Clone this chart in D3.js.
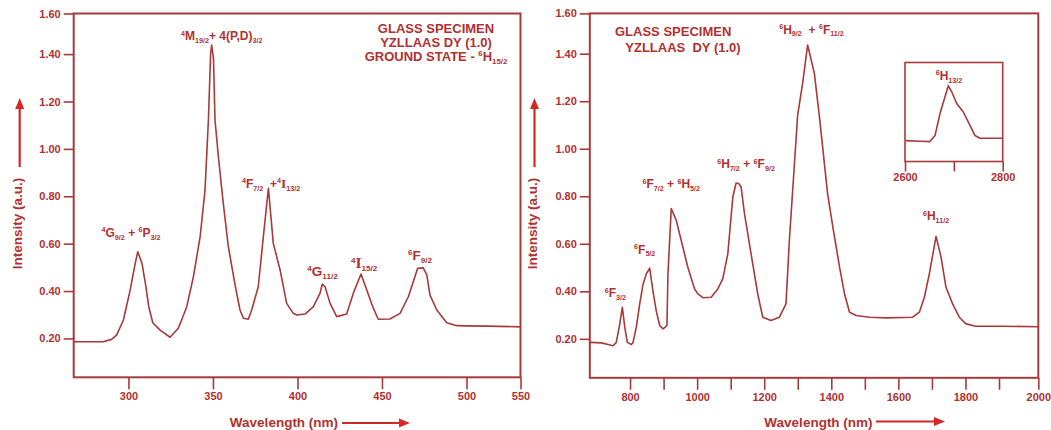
<!DOCTYPE html>
<html><head><meta charset="utf-8">
<script src="https://cdn.jsdelivr.net/npm/d3@7"></script>
<style>
body{margin:0;background:#fff}
svg{display:block}
text{font-family:"Liberation Sans",Arial,sans-serif;font-weight:bold}
</style>
</head><body>
<svg id="chart" width="1051" height="430"></svg>
<script>
// ---------- DATA ----------
// UV–VIS panel
const uvWavelength = [267.6,285,290,293,297,301,304,305.5,308,310,312,314.4,318.7,324.6,329.5,334.5,338.4,342.4,345.3,347.3,348.6,349.2,349.8,350.3,351.2,353.2,356.1,359.1,363.1,366,368,370.9,372.9,376.8,379.8,382.8,385.7,389.7,393.6,397.5,399.6,404.5,409.4,413.3,414.7,416.3,419.3,423.2,429.1,433,437.6,441,444.5,447.8,454.7,460.7,465.6,471.1,474.4,476.5,478.4,482.4,488.3,494.2,500,520,550];
const uvIntensity  = [0.186,0.186,0.196,0.214,0.278,0.404,0.517,0.566,0.517,0.433,0.334,0.266,0.235,0.205,0.243,0.334,0.46,0.629,0.826,1.122,1.40,1.445,1.41,1.38,1.122,0.967,0.77,0.587,0.425,0.32,0.285,0.281,0.32,0.418,0.629,0.834,0.601,0.489,0.348,0.306,0.299,0.303,0.334,0.39,0.43,0.418,0.348,0.292,0.303,0.39,0.472,0.404,0.334,0.281,0.282,0.306,0.376,0.496,0.498,0.468,0.383,0.32,0.266,0.254,0.253,0.252,0.249];
// NIR panel
const nirWavelength = [680,714.6,734.6,749.4,759,769.4,777.1,784.2,792,803.9,808.9,818.7,828.8,838.7,848.6,858.6,868.4,878,888.3,898.2,905,910,913,922.8,937.7,952.6,972.5,992.4,1002.3,1017.1,1041.8,1061.7,1076.6,1091.5,1106.4,1116.2,1123.8,1131.1,1141.2,1160.8,1180.7,1195.6,1220.3,1245.3,1264.9,1275,1299.7,1314.6,1329.4,1349.4,1365,1388.9,1404.7,1424.6,1439.5,1454.4,1474.3,1514,1563.5,1642.7,1662.6,1677.5,1692.4,1712.3,1727.2,1742,1761.7,1781.6,1801.5,1831.2,1911,2000];
const nirIntensity  = [0.185,0.183,0.176,0.171,0.185,0.263,0.333,0.249,0.185,0.176,0.185,0.249,0.347,0.43,0.474,0.497,0.40,0.319,0.256,0.242,0.249,0.256,0.474,0.748,0.699,0.614,0.50,0.41,0.389,0.373,0.375,0.41,0.453,0.558,0.797,0.856,0.854,0.839,0.727,0.558,0.389,0.291,0.277,0.291,0.347,0.614,1.142,1.276,1.443,1.318,1.13,0.811,0.67,0.502,0.389,0.312,0.298,0.291,0.288,0.291,0.312,0.375,0.474,0.631,0.544,0.417,0.347,0.291,0.263,0.253,0.253,0.251];
// Inset (6H13/2)
const insetWavelength = [2602,2630.7,2651,2661.4,2671.6,2681.9,2688.6,2695.6,2705.8,2719.3,2733,2743.3,2753.5,2800];
const insetIntensity  = [0.211,0.204,0.201,0.262,0.484,0.653,0.765,0.704,0.586,0.5,0.364,0.262,0.235,0.235];

// Ticks
const yTickValues = [0.20,0.40,0.60,0.80,1.00,1.20,1.40,1.60];
const uvTickValues = [300,350,400,450,500,550];
const nirTickValues = [800,900,1000,1100,1200,1300,1400,1500,1600,1700,1800,1900,2000];
const nirTickLabels = [800,1000,1200,1400,1600,1800,2000];
const insetTickValues = [2600,2700,2800];
const insetTickLabels = [2600,2800];

// Band assignments: text parts, anchor wavelength, anchor intensity
const uvLabelParts = [
  [["sup","4"],["t","G"],["sub","9/2"],["t"," + "],["sup","6"],["t","P"],["sub","3/2"]],
  [["sup","4"],["t","M"],["sub","19/2"],["t","+ 4(P,D)"],["sub","3/2"]],
  [["sup","4"],["t","F"],["sub","7/2"],["t","  +"],["sup","4"],["serif","I"],["sub","13/2"]],
  [["sup","4"],["big","G"],["sub","11/2"]],
  [["sup","4"],["serifbig","I"],["sub","15/2"]],
  [["sup","6"],["big","F"],["sub","9/2"]]
];
const uvLabelX = [301.5,355.2,384.4,414.8,439.4,472.5];
const uvLabelY = [0.628,1.468,0.835,0.463,0.496,0.531];

const nirLabelParts = [
  [["sup","6"],["t","F"],["sub","3/2"]],
  [["sup","6"],["t","F"],["sub","5/2"]],
  [["sup","6"],["t","F"],["sub","7/2"],["t"," + "],["sup","6"],["t","H"],["sub","5/2"]],
  [["sup","6"],["t","H"],["sub","7/2"],["t"," + "],["sup","6"],["t","F"],["sub","9/2"]],
  [["sup","6"],["t","H"],["sub","9/2"],["t","  + "],["sup","6"],["t","F"],["sub","11/2"]],
  [["sup","6"],["t","H"],["sub","11/2"]]
];
const nirLabelX = [756.3,843.7,922.8,1145.9,1341,1712.3];
const nirLabelY = [0.374,0.558,0.833,0.917,1.50,0.699];

const insetLabelParts = [["sup","6"],["t","H"],["sub","13/2"]];

const uvTitle = ["GLASS SPECIMEN","YZLLAAS DY (1.0)"];
const groundState = [["t","GROUND STATE - "],["sup","6"],["t","H"],["sub","15/2"]];
const nirTitle = ["GLASS SPECIMEN","YZLLAAS  DY (1.0)"];

// ---------- DRAWING ----------
const TEXT = "#b3302f", LINE = "#a83a3a", ARROW = "#d42828";
const svg = d3.select("#chart");

function richText(g, parts, x, y, size, anchor) {
  const t = g.append("text").attr("x", x).attr("y", y)
    .attr("text-anchor", anchor || "middle").attr("fill", TEXT)
    .attr("font-size", size).style("white-space", "pre");
  let off = 0;
  parts.forEach(([kind, s]) => {
    const sp = t.append("tspan").text(s);
    let target = 0, fs = size, fam = null;
    if (kind === "sup") { target = -size*0.38; fs = size*0.6; }
    else if (kind === "sub") { target = size*0.22; fs = size*0.6; }
    else if (kind === "serif") { fs = size*1.12; fam = "Liberation Serif"; }
    else if (kind === "serifbig") { fs = size*1.15; fam = "Liberation Serif"; }
    sp.attr("font-size", fs).attr("dy", target - off);
    if (fam) sp.attr("font-family", fam);
    off = target;
  });
  return t;
}

function arrowV(x, y0, y1) {
  svg.append("line").attr("x1", x).attr("x2", x).attr("y1", y0).attr("y2", y1 + 9)
    .attr("stroke", ARROW).attr("stroke-width", 2.2);
  svg.append("path").attr("d", `M${x-4.5},${y1+11} L${x},${y1} L${x+4.5},${y1+11} Z`).attr("fill", ARROW);
}
function arrowH(y, x0, x1) {
  svg.append("line").attr("x1", x0).attr("x2", x1 - 9).attr("y1", y).attr("y2", y)
    .attr("stroke", ARROW).attr("stroke-width", 2.2);
  svg.append("path").attr("d", `M${x1-11},${y-4.5} L${x1},${y} L${x1-11},${y+4.5} Z`).attr("fill", ARROW);
}

function panel(o) {
  const g = svg.append("g");
  const x = o.x, y = o.y;
  const [xl, xr] = [x.range()[0], x.range()[x.range().length-1]];
  const [yb, yt] = [y.range()[0], y.range()[y.range().length-1]];

  const ax = g.append("g").attr("transform", `translate(0,${yb})`)
    .call(d3.axisBottom(x).tickValues(o.xTicks).tickSize(12).tickPadding(3)
      .tickFormat(d => o.xLabels.includes(d) ? d : ""));
  const ay = g.append("g").attr("transform", `translate(${xl},0)`)
    .call(d3.axisLeft(y).tickValues(yTickValues).tickSize(10).tickPadding(3).tickFormat(d3.format(".2f")));
  [ax, ay].forEach(a => {
    a.select(".domain").remove();
    a.selectAll("line").attr("stroke", LINE).attr("stroke-width", 1.6);
    a.selectAll("text").attr("fill", TEXT).attr("font-size", 11)
      .attr("font-family", "'Liberation Sans',Arial,sans-serif").attr("font-weight", "bold");
  });

  g.append("rect").attr("x", xl).attr("y", yt).attr("width", xr - xl).attr("height", yb - yt)
    .attr("fill", "none").attr("stroke", LINE).attr("stroke-width", 2);

  const line = d3.line().x(d => x(d[0])).y(d => y(d[1]));
  g.append("path").datum(d3.zip(o.wl, o.val)).attr("d", line)
    .attr("fill", "none").attr("stroke", LINE).attr("stroke-width", 1.6).attr("stroke-linejoin", "round");

  o.labels.forEach((p, i) => {
    const big = p.some(q => q[0] === "big" || q[0] === "serifbig");
    richText(g, p, x(o.lx[i]), y(o.ly[i]), big ? 13.5 : 12, "middle");
  });

  g.append("text").attr("transform", `translate(${o.ytX},223.5) rotate(-90)`)
    .attr("text-anchor", "middle").attr("dy", "0.35em").attr("fill", TEXT).attr("font-size", 13.5)
    .text("Intensity (a.u.)");
  arrowV(o.ytX + 2, 167, 98);
  g.append("text").attr("x", o.xtX).attr("y", 427).attr("text-anchor", "middle")
    .attr("fill", TEXT).attr("font-size", 13.5).text("Wavelength (nm)");
  arrowH(o.xtY, o.xaX0, o.xaX1);
  return g;
}

// Left (UV-VIS)
const xUV = d3.scaleLinear().domain([267.6, 500, 550]).range([73.7, 466.5, 520.5]);
const yUV = d3.scaleLinear().domain([0.036, 1.4, 1.6]).range([377.3, 54.1, 13.5]);
panel({x: xUV, y: yUV, xTicks: uvTickValues, xLabels: uvTickValues, wl: uvWavelength, val: uvIntensity,
  labels: uvLabelParts, lx: uvLabelX, ly: uvLabelY, ytX: 17.7, xtX: 284, xtY: 423, xaX0: 342, xaX1: 410});

uvTitle.forEach((s, i) => svg.append("text").attr("x", 436).attr("y", 33.3 + i*13.4)
  .attr("text-anchor", "middle").attr("fill", TEXT).attr("font-size", 13).text(s));
richText(svg, groundState, 436, 61, 13, "middle");

// Right (NIR)
const xNIR = d3.scaleLinear().domain([680, 1900, 2000]).range([589.8, 999, 1038.3]);
const yNIR = d3.scaleLinear().domain([0.036, 1.4, 1.6]).range([377.8, 53.7, 13.4]);
panel({x: xNIR, y: yNIR, xTicks: nirTickValues, xLabels: nirTickLabels, wl: nirWavelength, val: nirIntensity,
  labels: nirLabelParts, lx: nirLabelX, ly: nirLabelY, ytX: 532.5, xtX: 818.5, xtY: 421.5, xaX0: 876, xaX1: 945});

nirTitle.forEach((s, i) => svg.append("text").attr("x", i ? 625.3 : 615).attr("y", i ? 51.7 : 36.2)
  .attr("fill", TEXT).attr("font-size", 13).style("white-space", "pre").text(s));

// Inset
const xIn = d3.scaleLinear().domain([2600, 2800]).range([905, 1002.7]);
const yIn = d3.scaleLinear().domain([0, 1]).range([161.5, 62.5]);
const gi = svg.append("g");
gi.append("rect").attr("x", 905).attr("y", 62.5).attr("width", 97.7).attr("height", 99)
  .attr("fill", "#fff").attr("stroke", LINE).attr("stroke-width", 1.6);
const axIn = gi.append("g").attr("transform", "translate(0,161.5)")
  .call(d3.axisBottom(xIn).tickValues(insetTickValues).tickSize(10).tickPadding(2)
    .tickFormat(d => insetTickLabels.includes(d) ? d : ""));
axIn.select(".domain").remove();
axIn.selectAll("line").attr("stroke", LINE).attr("stroke-width", 1.6);
axIn.selectAll("text").attr("fill", TEXT).attr("font-size", 11)
  .attr("font-family", "'Liberation Sans',Arial,sans-serif").attr("font-weight", "bold");
gi.append("path").datum(d3.zip(insetWavelength, insetIntensity))
  .attr("d", d3.line().x(d => xIn(d[0])).y(d => yIn(d[1])))
  .attr("fill", "none").attr("stroke", LINE).attr("stroke-width", 1.6).attr("stroke-linejoin", "round");
richText(gi, insetLabelParts, xIn(2690), 80, 12, "middle");
</script>
</body></html>
